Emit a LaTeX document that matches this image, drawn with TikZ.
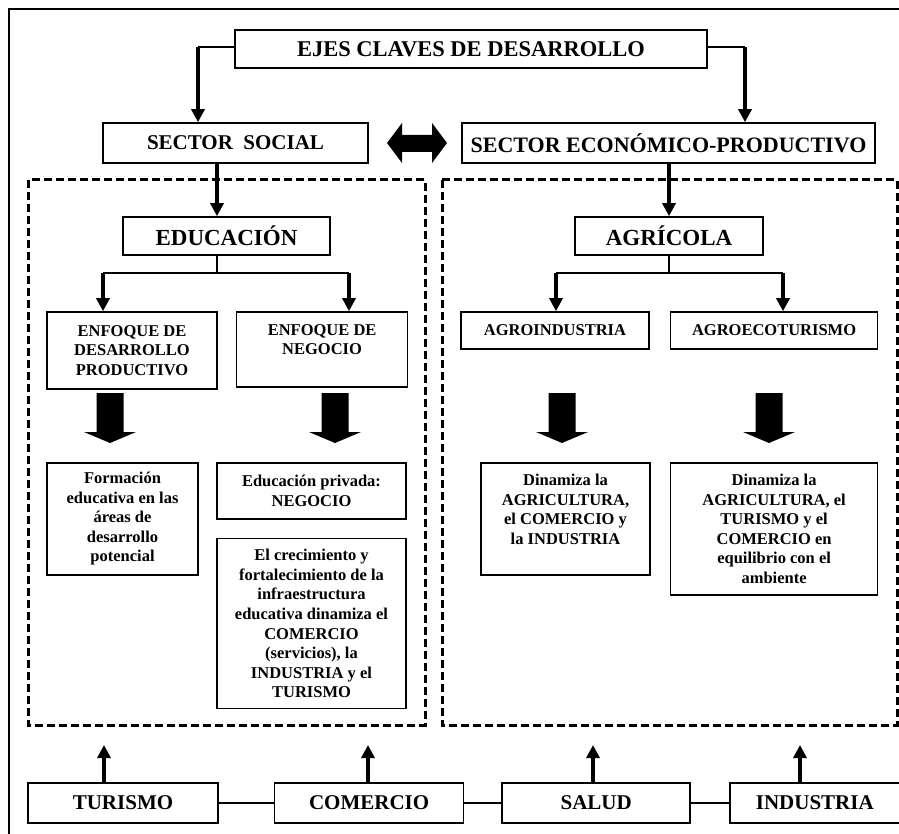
\documentclass[tikz,border=0pt]{standalone}
\usepackage{fontspec}
\setmainfont{Liberation Serif}
\usetikzlibrary{arrows.meta,positioning}

\begin{document}
\begin{tikzpicture}[x=1pt, y=-1pt,
    box/.style={draw, line width=1.6pt, align=center, inner sep=2pt,
      font=\bfseries\fontsize{16.5}{19.5}\selectfont},
    sector/.style={box, minimum height=40pt, font=\bfseries\fontsize{21}{24}\selectfont},
    axis/.style={box, minimum height=38pt, font=\bfseries\fontsize{23}{26}\selectfont},
    arr/.style={line width=3.2pt, -{Triangle[width=13pt,length=13pt]}},
    link/.style={line width=1.5pt},
    zone/.style={line width=3pt, dash pattern=on 8pt off 4pt}]
  \useasboundingbox (0,0) rectangle (899,834);

  % frame
  \draw[line width=2pt] (9,834) -- (9,9) -- (899,9);

  % dashed zones
  \draw[zone] (28,180) rectangle (425,725);
  \draw[zone] (442,180) rectangle (897,725);

  % top levels
  \node[box, minimum width=472pt, minimum height=38pt,
    font=\bfseries\fontsize{22.5}{25}\selectfont] (ejes) at (471,49) {EJES CLAVES DE DESARROLLO};
  \node[sector, minimum width=265pt] (ss) at (235.5,143) {SECTOR~ SOCIAL};
  \node[sector, minimum width=413pt, font=\bfseries\fontsize{22}{24}\selectfont] (se) at (668.5,143) {SECTOR ECONÓMICO-PRODUCTIVO};
  \node[axis, minimum width=207pt] (edu) at (226.5,236) {EDUCACIÓN};
  \node[axis, minimum width=188pt] (agr) at (669,236) {AGRÍCOLA};

  % second level
  \node[box, minimum width=170pt, minimum height=77pt] (edp) at (132,350.5) {ENFOQUE DE\\DESARROLLO\\PRODUCTIVO};
  \node[box, minimum width=171pt, minimum height=75pt, right=18pt of edp.north east, anchor=north west] (neg) {ENFOQUE DE\\NEGOCIO\\\mbox{}};
  \node[box, minimum width=188pt, minimum height=37pt] (agi) at (555,330.5) {AGROINDUSTRIA};
  \node[box, minimum width=207pt, minimum height=37pt, right=20pt of agi] (age) {AGROECOTURISMO};

  % results
  \node[box, minimum width=151pt, minimum height=112pt] (form) at (122.5,519) {Formación\\educativa en las\\áreas de\\desarrollo\\potencial};
  \node[box, minimum width=189pt, minimum height=56pt] (priv) at (311.5,491) {Educación privada:\\NEGOCIO};
  \node[box, minimum width=189pt, minimum height=170pt, below=18pt of priv] (crec) {El crecimiento y\\fortalecimiento de la\\infraestructura\\educativa dinamiza el\\COMERCIO\\(servicios), la\\INDUSTRIA y el\\TURISMO};
  \node[box, minimum width=169pt, minimum height=112pt] (din1) at (565.5,519) {Dinamiza la\\AGRICULTURA,\\el COMERCIO y\\la INDUSTRIA\\\mbox{}};
  \node[box, minimum width=207pt, minimum height=132pt, right=19pt of din1.north east, anchor=north west] (din2) {Dinamiza la\\AGRICULTURA, el\\TURISMO y el\\COMERCIO en\\equilibrio con el\\ambiente};

  % bottom row
  \node[sector, minimum width=190pt] (tur) at (123,803) {TURISMO};
  \node[sector, minimum width=189pt, right=55pt of tur] (com) {COMERCIO};
  \node[sector, minimum width=188pt, right=37pt of com] (sal) {SALUD};
  \node[sector, minimum width=170pt, right=38pt of sal] (ind) {INDUSTRIA};

  \coordinate (ssaxis) at (198,47);
  \coordinate (seaxis) at (745,47);
  \coordinate (eduaxis) at (217,0);
  \coordinate (edufork) at (217,273);
  \coordinate (e1) at (103,273);
  \coordinate (e2) at (349,273);
  \coordinate (agrfork) at (669,273);
  \coordinate (g1) at (556,273);
  \coordinate (g2) at (783,273);
  \coordinate (turup) at (104,745);
  \coordinate (comup) at (368,745);
  \coordinate (salup) at (593,745);
  \coordinate (indup) at (800,745);

  % connectors
  \draw[link] (ejes.west |- ssaxis) -- (ssaxis);
  \draw[link] (ejes.east |- seaxis) -- (seaxis);
  \draw[arr] (ssaxis) -- (ssaxis |- ss.north);
  \draw[arr] (seaxis) -- (seaxis |- se.north);
  \draw[arr] (ss.south -| eduaxis) -- (edu.north -| eduaxis);
  \draw[arr] (se.south -| agr.north) -- (agr.north);

  \draw[link] (edu.south -| edufork) -- (edufork);
  \draw[link] (e1) -- (e2);
  \draw[arr] (e1) -- (e1 |- edp.north);
  \draw[arr] (e2) -- (e2 |- neg.north);
  \draw[link] (agr.south) -- (agrfork);
  \draw[link] (g1) -- (g2);
  \draw[arr] (g1) -- (g1 |- agi.north);
  \draw[arr] (g2) -- (g2 |- age.north);

  % block arrows
  \foreach \bx in {110,335,562,769}
    \fill ({\bx-13.5},393) -- ({\bx+13.5},393) -- ({\bx+13.5},432) -- ({\bx+26},432)
      -- (\bx,443) -- ({\bx-26},432) -- ({\bx-13.5},432) -- cycle;

  % double arrow between sectors
  \fill (387,143) -- (402,123) -- (402,135) -- (432,135) -- (432,123) -- (447,143)
    -- (432,163) -- (432,152) -- (402,152) -- (402,163) -- cycle;

  \draw[link] (tur) -- (com);
  \draw[link] (com) -- (sal);
  \draw[link] (sal) -- (ind);
  \draw[arr] (tur.north -| turup) -- (turup);
  \draw[arr] (com.north -| comup) -- (comup);
  \draw[arr] (sal.north -| salup) -- (salup);
  \draw[arr] (ind.north -| indup) -- (indup);
\end{tikzpicture}
\end{document}
